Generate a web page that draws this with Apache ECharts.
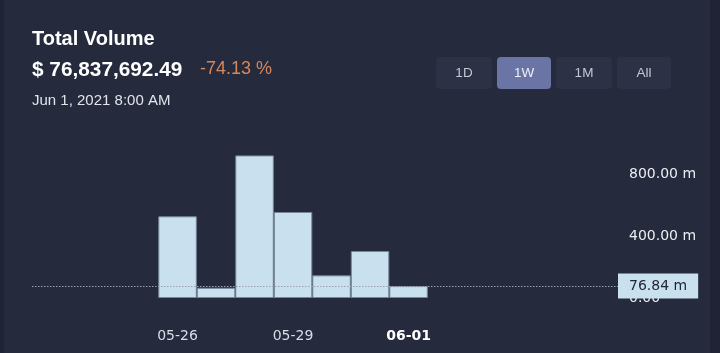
<!DOCTYPE html>
<html>
<head>
<meta charset="utf-8">
<script src="https://cdn.jsdelivr.net/npm/echarts@6/dist/echarts.min.js"></script>
<style>
html,body{margin:0;padding:0;background:#252a3d;}
#chart{width:720px;height:353px;}
</style>
</head>
<body>
<div id="chart"></div>
<script>
// ---- data ----
const categories = ['05-26', '05-27', '05-28', '05-29', '05-30', '05-31', '06-01'];
const volumes = [527, 66, 920, 555, 146, 303, 76.84]; // millions
const titleText = 'Total Volume';
const amountText = '$ 76,837,692.49';
const changeText = '-74.13 %';
const dateText = 'Jun 1, 2021 8:00 AM';
const ranges = ['1D', '1W', '1M', 'All'];
const selectedRange = '1W';
const yTickStep = 400;

// ---- layout / style ----
const BG = '#252a3d';
const lastValue = volumes[volumes.length - 1];
const lastCat = categories[categories.length - 1];
const yMax = 960;
const gridTop = 149.2, gridBottom = 55;

const btnX = [436, 497, 556, 617];
const btnW = [56, 54, 56, 54];
const graphics = [
  {type: 'rect', left: 0, top: 0, shape: {width: 4, height: 353}, style: {fill: '#1f2335'}, z: 0},
  {type: 'rect', left: 710, top: 0, shape: {width: 10, height: 353}, style: {fill: '#1f2335'}, z: 0},
  {type: 'text', left: 32, top: 29, style: {text: titleText, fill: '#ffffff', font: 'bold 20px "Liberation Sans", Arial, sans-serif'}},
  {type: 'text', left: 32, top: 59.5, style: {text: amountText, fill: '#ffffff', font: 'bold 20.8px "Liberation Sans", Arial, sans-serif'}},
  {type: 'text', left: 200, top: 60.5, style: {text: changeText, fill: '#d6875b', font: '18px "Liberation Sans", Arial, sans-serif'}},
  {type: 'text', left: 32, top: 93.5, style: {text: dateText, fill: '#e2e4ec', font: '15px "Liberation Sans", Arial, sans-serif'}}
];
ranges.forEach((r, i) => {
  const sel = r === selectedRange;
  graphics.push({
    type: 'group', left: btnX[i], top: 57,
    children: [
      {type: 'rect', shape: {x: 0, y: 0, width: btnW[i], height: 32, r: 4}, style: {fill: sel ? '#6a75a5' : '#2c3145'}},
      {type: 'text', x: btnW[i] / 2, y: 16, style: {text: r, fill: sel ? '#eef0f7' : '#c3c7d4', font: '13.5px "Liberation Sans", Arial, sans-serif', textAlign: 'center', textVerticalAlign: 'middle'}}
    ]
  });
});

const chart = echarts.init(document.getElementById('chart'));
chart.setOption({
  backgroundColor: BG,
  animation: false,
  graphic: graphics,
  grid: [
    {left: 158.3, right: 292.2, top: gridTop, bottom: gridBottom},
    {left: 32, right: 102, top: gridTop, bottom: gridBottom}
  ],
  xAxis: [
    {
      type: 'category', gridIndex: 0, data: categories, boundaryGap: true,
      axisLine: {show: false}, axisTick: {show: false}, splitLine: {show: false},
      axisLabel: {
        interval: 2, margin: 31, color: '#dadde5', fontFamily: 'DejaVu Sans', fontSize: 14,
        formatter: v => v === lastCat ? '{b|' + v + '}' : v,
        rich: {b: {color: '#ffffff', fontWeight: 'bold', fontFamily: 'DejaVu Sans', fontSize: 14}}
      }
    },
    {type: 'value', gridIndex: 1, min: 0, max: 1, show: false}
  ],
  yAxis: [
    {type: 'value', gridIndex: 0, min: 0, max: yMax, show: false},
    {
      type: 'value', gridIndex: 1, min: 0, max: yMax, interval: yTickStep, position: 'right',
      axisLine: {show: false}, axisTick: {show: false}, splitLine: {show: false},
      axisLabel: {
        margin: 11, color: '#eceef3', fontFamily: 'DejaVu Sans', fontSize: 14,
        formatter: v => (v % yTickStep !== 0) ? '' : (v === 0 ? '0.00' : v.toFixed(2) + ' m')
      }
    }
  ],
  series: [
    {
      type: 'bar', xAxisIndex: 0, yAxisIndex: 0, data: volumes, barCategoryGap: '0%', z: 3,
      itemStyle: {color: '#c9e0ee', borderColor: '#76869a', borderWidth: 1}
    },
    {
      type: 'line', xAxisIndex: 1, yAxisIndex: 1, data: [], z: 1,
      markLine: {
        symbol: 'none', silent: true, animation: false,
        lineStyle: {color: '#9ba1b6', type: [1.5, 1.5], width: 1.2},
        label: {
          position: 'end', distance: 0,
          formatter: () => lastValue.toFixed(2) + ' m',
          backgroundColor: '#c9e0ee', color: '#1f2433', fontFamily: 'DejaVu Sans', fontSize: 14,
          padding: [6, 11, 5, 11]
        },
        emphasis: {disabled: true},
        data: [{yAxis: lastValue}]
      }
    }
  ]
});
</script>
</body>
</html>
